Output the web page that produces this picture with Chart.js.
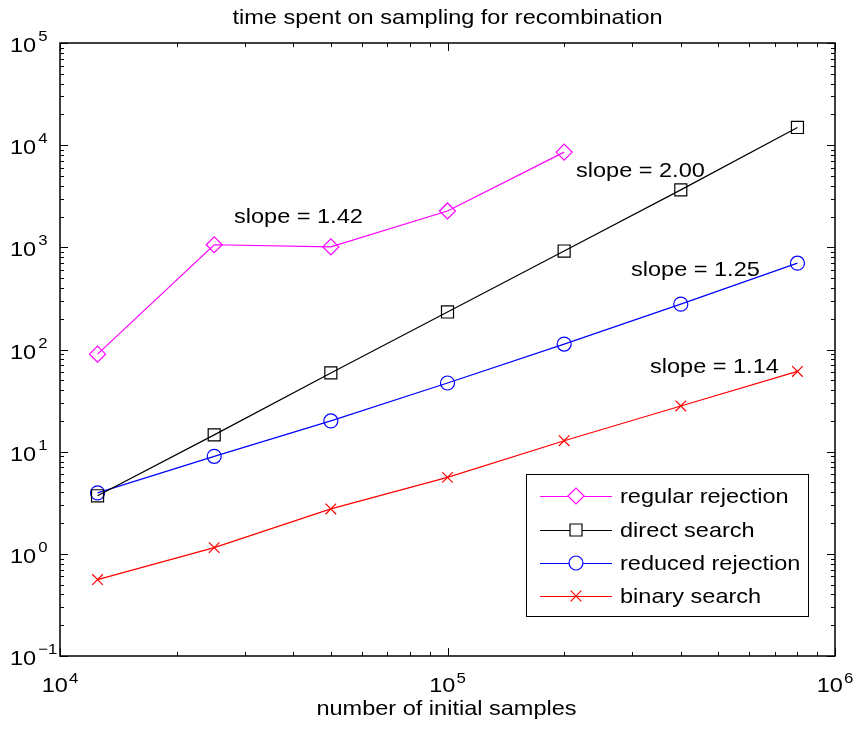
<!DOCTYPE html>
<html>
<head>
<meta charset="utf-8">
<script src="https://cdn.jsdelivr.net/npm/chart.js@4/dist/chart.umd.min.js"></script>
<style>
  html, body { margin: 0; padding: 0; background: #fff; }
  #wrap { width: 853px; height: 729px; position: relative; }
</style>
</head>
<body>
<div id="wrap"><canvas id="timingChart"></canvas></div>
<script>
const samples = [12500, 25000, 50000, 100000, 200000, 400000, 800000];
const regularRejection = [90, 1060, 1010, 2270, 8550];
const directSearch = [3.7, 14.6, 59, 233, 920, 3650, 14900];
const reducedRejection = [3.95, 9.0, 20, 47, 113, 278, 700];
const binarySearch = [0.56, 1.15, 2.75, 5.6, 12.8, 28, 61];
const seriesNames = ['regular rejection', 'direct search', 'reduced rejection', 'binary search'];
const slopeLabels = ['slope = 1.42', 'slope = 2.00', 'slope = 1.25', 'slope = 1.14'];
const xDecades = [4, 5, 6];
const yDecades = [-1, 0, 1, 2, 3, 4, 5];

const FONT = '"Liberation Sans", Arial, Helvetica, sans-serif';
const SX = 1.12;

function toPoints(vals) {
  return vals.map((v, i) => ({ x: samples[i], y: v }));
}

function drawText(ctx, s, x, y, size, align) {
  ctx.save();
  ctx.font = size + 'px ' + FONT;
  const w = ctx.measureText(s).width * SX;
  let x0 = x;
  if (align === 'center') x0 = x - w / 2;
  if (align === 'right') x0 = x - w;
  ctx.translate(x0, y);
  ctx.scale(SX, 1);
  ctx.textAlign = 'left';
  ctx.textBaseline = 'alphabetic';
  ctx.fillStyle = '#000';
  ctx.fillText(s, 0, 0);
  ctx.restore();
  return w;
}

function textWidth(ctx, s, size) {
  ctx.save();
  ctx.font = size + 'px ' + FONT;
  const w = ctx.measureText(s).width * SX;
  ctx.restore();
  return w;
}

const styles = [
  { color: '#ff00ff', pointStyle: 'rectRot', radius: 8 },
  { color: '#000000', pointStyle: 'rect', radius: 8.5 },
  { color: '#0000ff', pointStyle: 'circle', radius: 7 },
  { color: '#ff0000', pointStyle: 'crossRot', radius: 7.5 }
];
const allSeries = [regularRejection, directSearch, reducedRejection, binarySearch];

const axesPlugin = {
  id: 'matlabAxes',
  afterDraw(chart) {
    const ctx = chart.ctx;
    const a = chart.chartArea;
    const xs = chart.scales.x;
    const ys = chart.scales.y;

    ctx.save();
    ctx.strokeStyle = '#000';
    ctx.lineWidth = 1.5;
    ctx.strokeRect(a.left, a.top, a.right - a.left, a.bottom - a.top);

    // ticks, inward on all four sides
    ctx.lineWidth = 1;
    ctx.beginPath();
    for (let d = xDecades[0]; d <= xDecades[xDecades.length - 1]; d++) {
      for (let k = 1; k <= 9; k++) {
        if (d === xDecades[xDecades.length - 1] && k > 1) break;
        const px = Math.round(xs.getPixelForValue(k * Math.pow(10, d))) + 0.5;
        const len = k === 1 ? 8 : 4;
        ctx.moveTo(px, a.bottom); ctx.lineTo(px, a.bottom - len);
        ctx.moveTo(px, a.top); ctx.lineTo(px, a.top + len);
      }
    }
    for (let d = yDecades[0]; d <= yDecades[yDecades.length - 1]; d++) {
      for (let k = 1; k <= 9; k++) {
        if (d === yDecades[yDecades.length - 1] && k > 1) break;
        const py = Math.round(ys.getPixelForValue(k * Math.pow(10, d))) + 0.5;
        const len = k === 1 ? 8 : 4;
        ctx.moveTo(a.left, py); ctx.lineTo(a.left + len, py);
        ctx.moveTo(a.right, py); ctx.lineTo(a.right - len, py);
      }
    }
    ctx.stroke();

    // tick labels 10^n
    xDecades.forEach(d => {
      const px = xs.getPixelForValue(Math.pow(10, d));
      const exp = String(d);
      const w = textWidth(ctx, '10', 21) + textWidth(ctx, exp, 15) + 1;
      const x0 = px - w / 2;
      const w10 = drawText(ctx, '10', x0, a.bottom + 36, 21, 'left');
      drawText(ctx, exp, x0 + w10 + 1, a.bottom + 27, 15, 'left');
    });
    yDecades.forEach(d => {
      const py = ys.getPixelForValue(Math.pow(10, d));
      const exp = d < 0 ? '\u2212' + Math.abs(d) : String(d);
      const w10 = drawText(ctx, '10', 10, py + 9, 21, 'left');
      drawText(ctx, exp, 10 + w10 + 2, py - 2, 15, 'left');
    });

    // title and axis label
    const cx = (a.left + a.right) / 2;
    drawText(ctx, 'time spent on sampling for recombination', cx, 24, 21, 'center');
    drawText(ctx, 'number of initial samples', cx - 1, 715, 21, 'center');

    // slope annotations
    const notePos = [[234, 223], [576, 177], [631, 276], [650, 373]];
    slopeLabels.forEach((s, i) => drawText(ctx, s, notePos[i][0], notePos[i][1], 21, 'left'));

    // legend
    const lg = { left: 526, top: 474, right: 808, bottom: 616 };
    ctx.fillStyle = '#fff';
    ctx.fillRect(lg.left, lg.top, lg.right - lg.left, lg.bottom - lg.top);
    ctx.strokeStyle = '#000';
    ctx.lineWidth = 1;
    ctx.strokeRect(lg.left + 0.5, lg.top + 0.5, lg.right - lg.left, lg.bottom - lg.top);
    const rowY = [496, 530, 563, 596];
    seriesNames.forEach((name, i) => {
      const st = styles[i];
      const y = rowY[i];
      ctx.strokeStyle = st.color;
      ctx.lineWidth = 1.2;
      ctx.beginPath();
      ctx.moveTo(540, y + 0.5); ctx.lineTo(612, y + 0.5);
      ctx.stroke();
      ctx.lineWidth = 1.2;
      Chart.helpers.drawPoint(ctx, {
        pointStyle: st.pointStyle, radius: st.radius, rotation: 0, borderWidth: 1.2
      }, 576, y);
      drawText(ctx, name, 620, y + 7, 21, 'left');
    });
    ctx.restore();
  }
};

new Chart(document.getElementById('timingChart'), {
  type: 'line',
  data: {
    datasets: allSeries.map((vals, i) => ({
      label: seriesNames[i],
      data: toPoints(vals),
      borderColor: styles[i].color,
      backgroundColor: 'rgba(0,0,0,0)',
      borderWidth: 1.2,
      tension: 0,
      fill: false,
      pointStyle: styles[i].pointStyle,
      pointRadius: styles[i].radius,
      pointBorderWidth: 1.2,
      pointBorderColor: styles[i].color,
      pointBackgroundColor: 'rgba(0,0,0,0)',
      clip: false
    }))
  },
  options: {
    responsive: true,
    maintainAspectRatio: false,
    animation: false,
    events: [],
    layout: {
      padding: { left: 60, right: 18, top: 43, bottom: 73 }
    },
    plugins: {
      legend: { display: false },
      title: { display: false },
      tooltip: { enabled: false }
    },
    scales: {
      x: { type: 'logarithmic', min: 1e4, max: 1e6, display: false },
      y: { type: 'logarithmic', min: 0.1, max: 1e5, display: false }
    }
  },
  plugins: [axesPlugin]
});
</script>
</body>
</html>
